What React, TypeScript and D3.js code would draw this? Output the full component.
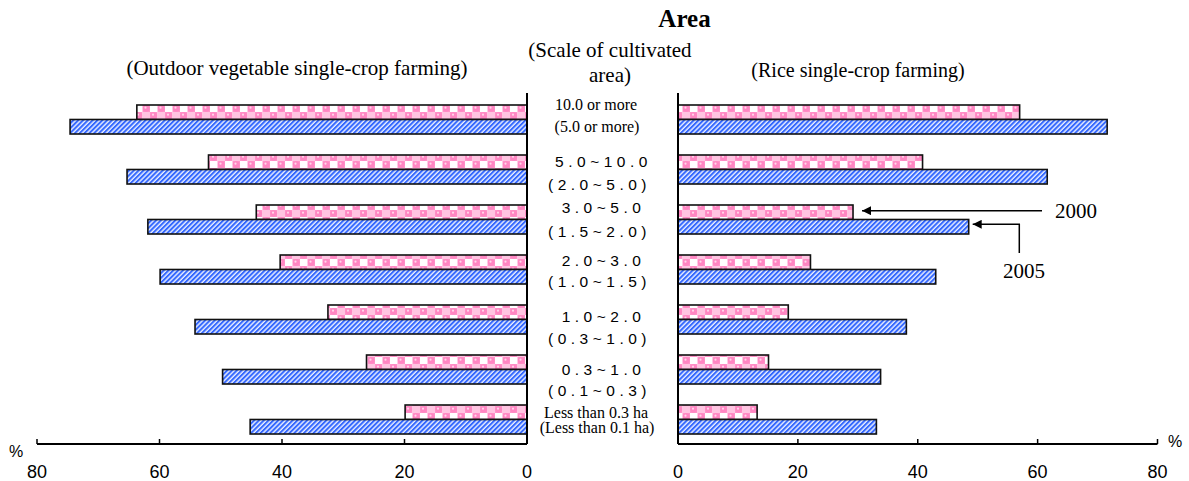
import React from "react";
import * as d3 from "d3";

// ---------- data ----------
const vegScale = ["10.0 or more", "5.0~10.0", "3.0~5.0", "2.0~3.0", "1.0~2.0", "0.3~1.0", "Less than 0.3 ha"];
const riceScale = ["(5.0 or more)", "(2.0~5.0)", "(1.5~2.0)", "(1.0~1.5)", "(0.3~1.0)", "(0.1~0.3)", "(Less than 0.1 ha)"];
const series = ["2000", "2005"];
const veg2000 = [63.7, 52.0, 44.2, 40.3, 32.5, 26.2, 19.9];
const veg2005 = [74.6, 65.3, 61.9, 59.9, 54.2, 49.7, 45.2];
const rice2000 = [57.0, 40.8, 29.2, 22.1, 18.4, 15.1, 13.2];
const rice2005 = [71.6, 61.6, 48.5, 43.0, 38.1, 33.8, 33.1];
const tickValues = [0, 20, 40, 60, 80];

// ---------- layout ----------
const W = 1189;
const H = 481;
const AXIS_Y = 444;
const serif = "'Liberation Serif', 'Times New Roman', serif";
const sans = "'Liberation Sans', Arial, sans-serif";
// label baseline offsets relative to band top, per row (top label, bottom label)
const labelOffsets: [number, number][] = [
  [5, 27], [11.7, 35], [8, 31.7], [10.5, 32], [17.3, 39.3], [20.3, 41.3], [12.7, 27.7],
];

export default function App() {
  const xL = d3.scaleLinear().domain([0, 80]).range([527, 37]);
  const xR = d3.scaleLinear().domain([0, 80]).range([678, 1157.5]);
  const y = d3
    .scaleBand<number>()
    .domain(d3.range(vegScale.length))
    .range([94.5, 444.5])
    .paddingInner(0.42)
    .paddingOuter(0.21);
  const ys = d3.scaleBand<string>().domain(series).range([0, y.bandwidth()]);

  const left = [veg2000, veg2005];
  const right = [rice2000, rice2005];
  const fills = ["url(#pinkPat)", "url(#bluePat)"];

  const serifRows = new Set([0, vegScale.length - 1]);

  return (
    <svg
      width={W}
      height={H}
      style={{ position: "absolute", left: 0, top: 0, background: "#fff" }}
    >
      <defs>
        <pattern id="pinkPat" patternUnits="userSpaceOnUse" width={15} height={14}>
          <rect width={15} height={14} fill="#ffffff" />
          <rect x={0} y={0} width={7.5} height={7} fill="#ff94c9" />
          <rect x={7.5} y={7} width={7.5} height={7} fill="#ff94c9" />
          <rect x={7.5} y={0} width={7.5} height={7} fill="#ffc4e1" />
          <circle cx={3.75} cy={3.5} r={3.3} fill="#ff86c2" />
          <circle cx={11.25} cy={10.5} r={3.3} fill="#ff86c2" />
          <circle cx={3} cy={2.7} r={1.1} fill="#ffd6ea" />
          <circle cx={10.5} cy={9.7} r={1.1} fill="#ffd6ea" />
        </pattern>
        <pattern
          id="bluePat"
          patternUnits="userSpaceOnUse"
          width={3.4}
          height={10}
          patternTransform="rotate(45)"
        >
          <rect width={3.4} height={10} fill="#e9efff" />
          <rect width={2} height={10} fill="#3468ff" />
        </pattern>
        <marker
          id="arrow"
          viewBox="0 0 10 10"
          refX={10}
          refY={5}
          markerWidth={12}
          markerHeight={9}
          markerUnits="userSpaceOnUse"
          orient="auto"
        >
          <path d="M0,0 L10,5 L0,10 Z" fill="#000" />
        </marker>
      </defs>

      {/* titles */}
      <text x={684.5} y={27} textAnchor="middle" fontFamily={serif} fontWeight="bold" fontSize={25}>
        Area
      </text>
      <text x={297} y={75} textAnchor="middle" fontFamily={serif} fontSize={21}>
        (Outdoor vegetable single-crop farming)
      </text>
      <text x={610} y={57} textAnchor="middle" fontFamily={serif} fontSize={21}>
        (Scale of cultivated
      </text>
      <text x={610} y={81.5} textAnchor="middle" fontFamily={serif} fontSize={21}>
        area)
      </text>
      <text x={858} y={77} textAnchor="middle" fontFamily={serif} fontSize={20}>
        (Rice single-crop farming)
      </text>

      {/* bars left */}
      {left.map((vals, si) =>
        vals.map((v, i) => (
          <rect
            key={`l${si}-${i}`}
            x={xL(v)}
            y={(y(i) as number) + (ys(series[si]) as number)}
            width={xL(0) - xL(v)}
            height={ys.bandwidth()}
            fill={fills[si]}
            stroke="#111"
            strokeWidth={1.6}
          />
        ))
      )}
      {/* bars right */}
      {right.map((vals, si) =>
        vals.map((v, i) => (
          <rect
            key={`r${si}-${i}`}
            x={xR(0)}
            y={(y(i) as number) + (ys(series[si]) as number)}
            width={xR(v) - xR(0)}
            height={ys.bandwidth()}
            fill={fills[si]}
            stroke="#111"
            strokeWidth={1.6}
          />
        ))
      )}

      {/* vertical baselines */}
      <line x1={xL(0)} x2={xL(0)} y1={93} y2={AXIS_Y} stroke="#000" strokeWidth={2} />
      <line x1={xR(0)} x2={xR(0)} y1={93} y2={AXIS_Y} stroke="#000" strokeWidth={2} />

      {/* bottom axes */}
      <line x1={xL(80)} x2={xL(0)} y1={AXIS_Y} y2={AXIS_Y} stroke="#000" strokeWidth={2} />
      <line x1={xR(0)} x2={xR(80)} y1={AXIS_Y} y2={AXIS_Y} stroke="#000" strokeWidth={2} />
      {tickValues.map((t) => (
        <g key={`tl${t}`}>
          <line x1={xL(t)} x2={xL(t)} y1={AXIS_Y} y2={AXIS_Y - 5} stroke="#000" strokeWidth={1.5} />
          <text x={xL(t)} y={478} textAnchor="middle" fontFamily={sans} fontSize={18}>
            {t}
          </text>
        </g>
      ))}
      {tickValues.map((t) => (
        <g key={`tr${t}`}>
          <line x1={xR(t)} x2={xR(t)} y1={AXIS_Y} y2={AXIS_Y - 5} stroke="#000" strokeWidth={1.5} />
          <text x={xR(t)} y={478} textAnchor="middle" fontFamily={sans} fontSize={18}>
            {t}
          </text>
        </g>
      ))}
      <text x={9} y={457} fontFamily={sans} fontSize={16}>%</text>
      <text x={1168} y={447} fontFamily={sans} fontSize={16}>%</text>

      {/* category labels */}
      {vegScale.map((lab, i) => {
        const top = y(i) as number;
        const isSerif = serifRows.has(i);
        const [o1, o2] = labelOffsets[i];
        return (
          <g key={`lab${i}`}>
            <text
              x={isSerif ? 596 : 603.5}
              y={top + o1}
              textAnchor="middle"
              fontFamily={isSerif ? serif : sans}
              fontSize={isSerif ? 16 : 15.5}
              letterSpacing={isSerif ? 0 : 4.5}
            >
              {lab}
            </text>
            <text
              x={isSerif ? 597 : 599.5}
              y={top + o2}
              textAnchor="middle"
              fontFamily={isSerif ? serif : sans}
              fontSize={isSerif ? 16 : 15.5}
              letterSpacing={isSerif ? 0 : 4.5}
            >
              {riceScale[i]}
            </text>
          </g>
        );
      })}

      {/* annotations */}
      <line
        x1={1042}
        y1={210.7}
        x2={xR(rice2000[2]) + 9}
        y2={210.7}
        stroke="#000"
        strokeWidth={1.5}
        markerEnd="url(#arrow)"
      />
      <text x={1055} y={218} fontFamily={serif} fontSize={21}>
        {series[0]}
      </text>
      <polyline
        points={`1019.3,253 1019.3,224.3 ${xR(rice2005[2]) + 4},224.3`}
        fill="none"
        stroke="#000"
        strokeWidth={1.5}
        markerEnd="url(#arrow)"
      />
      <text x={1003} y={278} fontFamily={serif} fontSize={21}>
        {series[1]}
      </text>
    </svg>
  );
}
